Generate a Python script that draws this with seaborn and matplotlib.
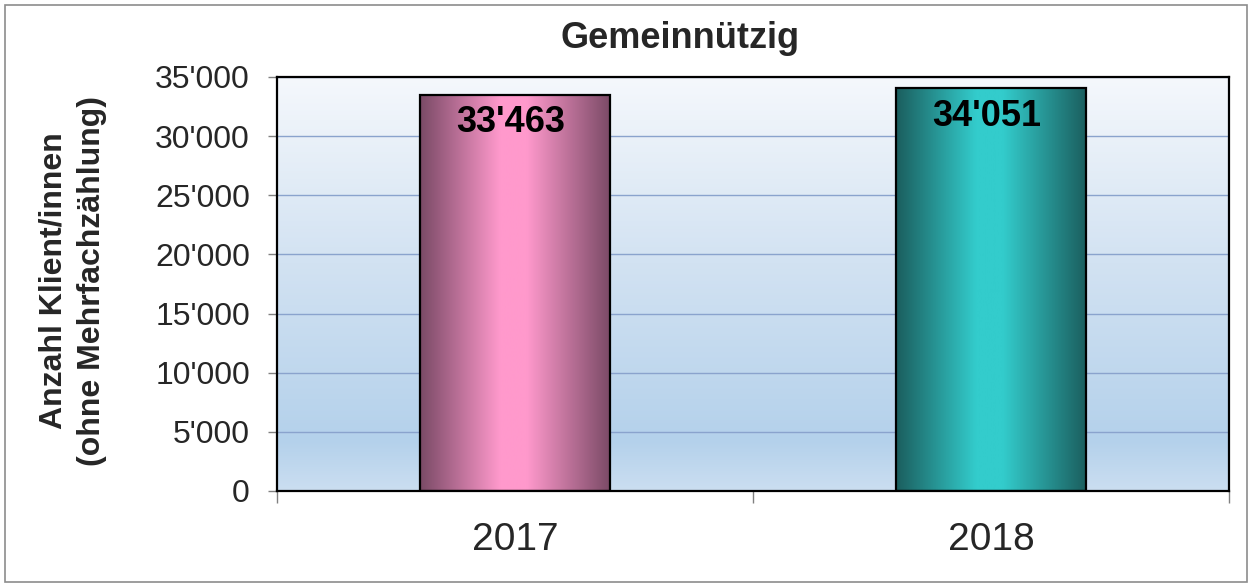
import numpy as np
import pandas as pd
import matplotlib
matplotlib.use("Agg")
import matplotlib.pyplot as plt
import matplotlib.patches as mpatches
from matplotlib.colors import LinearSegmentedColormap
from matplotlib.ticker import FuncFormatter
import seaborn as sns

# data
years = ["2017", "2018"]
clients = [33463, 34051]
edge_colors = ["#7a4a66", "#1b5e5e"]
light_colors = ["#ff99cc", "#33cccc"]

df = pd.DataFrame({"Jahr": years, "Anzahl": clients})

sns.set_style("white")
plt.rcParams["font.family"] = ["Liberation Sans", "DejaVu Sans"]

fig = plt.figure(figsize=(12.51, 5.85), dpi=100)
ax = fig.add_axes([277 / 1251, 1 - 491 / 585, 952 / 1251, 414 / 585])

sns.barplot(data=df, x="Jahr", y="Anzahl", width=0.4, color="white", ax=ax)

ymax = 35000
ax.set_ylim(0, ymax)
ax.set_xlim(-0.5, 1.5)

# background gradient of the plot area
bg_cmap = LinearSegmentedColormap.from_list(
    "bg", [(0.0, "#cbdef1"), (0.12, "#b4d1eb"), (0.55, "#d2e2f2"), (1.0, "#f5f8fc")])
grad = np.linspace(0, 1, 256).reshape(-1, 1)
ax.imshow(grad, cmap=bg_cmap, origin="lower", aspect="auto",
          extent=(-0.5, 1.5, 0, ymax), zorder=-2)

# horizontal gradient on each bar
for patch, dark, light in zip(ax.patches, edge_colors, light_colors):
    x0, y0 = patch.get_x(), patch.get_y()
    w, h = patch.get_width(), patch.get_height()
    cm = LinearSegmentedColormap.from_list(
        "bar", [(0.0, dark), (0.42, light), (0.56, light), (1.0, dark)])
    img = ax.imshow(np.linspace(0, 1, 256).reshape(1, -1), cmap=cm, aspect="auto",
                    extent=(x0, x0 + w, y0, y0 + h), zorder=2)
    img.set_clip_path(patch)
    patch.set_facecolor("none")
    patch.set_edgecolor("black")
    patch.set_linewidth(1.6)
    patch.set_zorder(3)

# value labels inside the bars
for i, v in enumerate(clients):
    ax.annotate(f"{v:,}".replace(",", "'"), xy=(i, v), xytext=(-3, -20),
                textcoords="offset points", ha="center", va="center",
                fontsize=26, fontweight="bold", color="black", zorder=4)

ax.set_xlim(-0.5, 1.5)
ax.set_ylim(0, ymax)

# gridlines and ticks
ax.set_yticks(np.arange(0, ymax + 1, 5000))
ax.yaxis.set_major_formatter(FuncFormatter(lambda v, p: f"{int(v):,}".replace(",", "'")))
ax.grid(axis="y", color="#8aa3cd", linewidth=1.0, zorder=1)
ax.set_axisbelow(True)
ax.tick_params(axis="y", which="major", left=True, direction="out", length=6.5,
               width=1, color="#808080", pad=13, labelsize=23)
ax.set_xticks([-0.5, 0.5, 1.5], minor=True)
ax.tick_params(axis="x", which="minor", bottom=True, direction="out", length=8.5,
               width=1, color="#808080")
ax.tick_params(axis="x", which="major", length=0, pad=22, labelsize=28)

for s in ax.spines.values():
    s.set_color("black")
    s.set_linewidth(1.6)

ax.set_xlabel("")
ax.set_ylabel("")

fig.text(73 / 1251, 1 - 281 / 585, "Anzahl Klient/innen\n(ohne Mehrfachzählung)",
         rotation=90, ha="center", va="center", fontsize=23, fontweight="bold",
         multialignment="center", linespacing=1.35)
fig.text(680 / 1251, 1 - 38 / 585, "Gemeinnützig", ha="center", va="center",
         fontsize=26, fontweight="bold")

# light grey frame around the whole chart
fig.patches.append(mpatches.Rectangle((5 / 1251, 3 / 585), 1242 / 1251, 577 / 585,
                                      transform=fig.transFigure, fill=False,
                                      edgecolor="#8c8c8c", linewidth=1.2))

fig.savefig("out.png", dpi=100)
